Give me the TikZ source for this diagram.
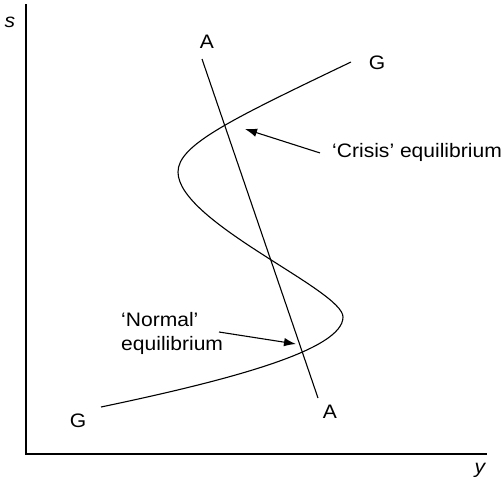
\documentclass[tikz,border=0pt]{standalone}
\usepackage{fontspec}
\setmainfont{Liberation Sans}[FakeStretch=1.08]
\usetikzlibrary{arrows.meta}
\tikzset{
  lbl/.style={font=\fontsize{19.5}{24}\selectfont, inner sep=0pt},
  curve/.style={line width=1.1pt},
  pointer/.style={line width=1.1pt, -{Latex[length=12pt,width=8.5pt]}},
}
\begin{document}
\begin{tikzpicture}[x=1pt,y=-1pt]
\useasboundingbox (0,0) rectangle (503,482);
% axes
\coordinate (top) at (26,4);
\coordinate (origin) at (26,454);
\coordinate (right) at (487,454);
\draw[curve] (top) -- (origin) -- (right);
\node[lbl, anchor=base] (s) at (10,27) {\itshape s};
\node[lbl, anchor=base] (y) at (480,473) {\itshape y};
% AA line
\coordinate (a1) at (202,59);
\coordinate (a2) at (318,398);
\draw[curve] (a1) -- (a2);
\node[lbl, anchor=base] (Atop) at (207,48) {A};
\node[lbl, anchor=base] (Abot) at (330,418) {A};
% GG curve
\coordinate (g1) at (101,407);
\coordinate (g2) at (351,62);
\draw[curve] (g1) .. controls (230,380) and (343,350) .. (343,317)
  .. controls (343,290) and (178,222) .. (178,172)
  .. controls (178,145) and (230,120) .. (g2);
\node[lbl, anchor=base] (Gbot) at (78,427) {G};
\node[lbl, anchor=base] (Gtop) at (377,69) {G};
% labels and arrows
\node[lbl, anchor=base west] (crisis) at (332,157) {`Crisis' equilibrium};
\coordinate (cr) at (245,129);
\draw[pointer] ([xshift=-12pt,yshift=-1pt]crisis.west) -- (cr);
\node[lbl, anchor=north west, align=left] (normal) at (121,312) {`Normal'\\equilibrium};
\coordinate (nr) at (296,344);
\coordinate (ntail) at (219,332);
\draw[pointer] (ntail) -- (nr);
\end{tikzpicture}
\end{document}
